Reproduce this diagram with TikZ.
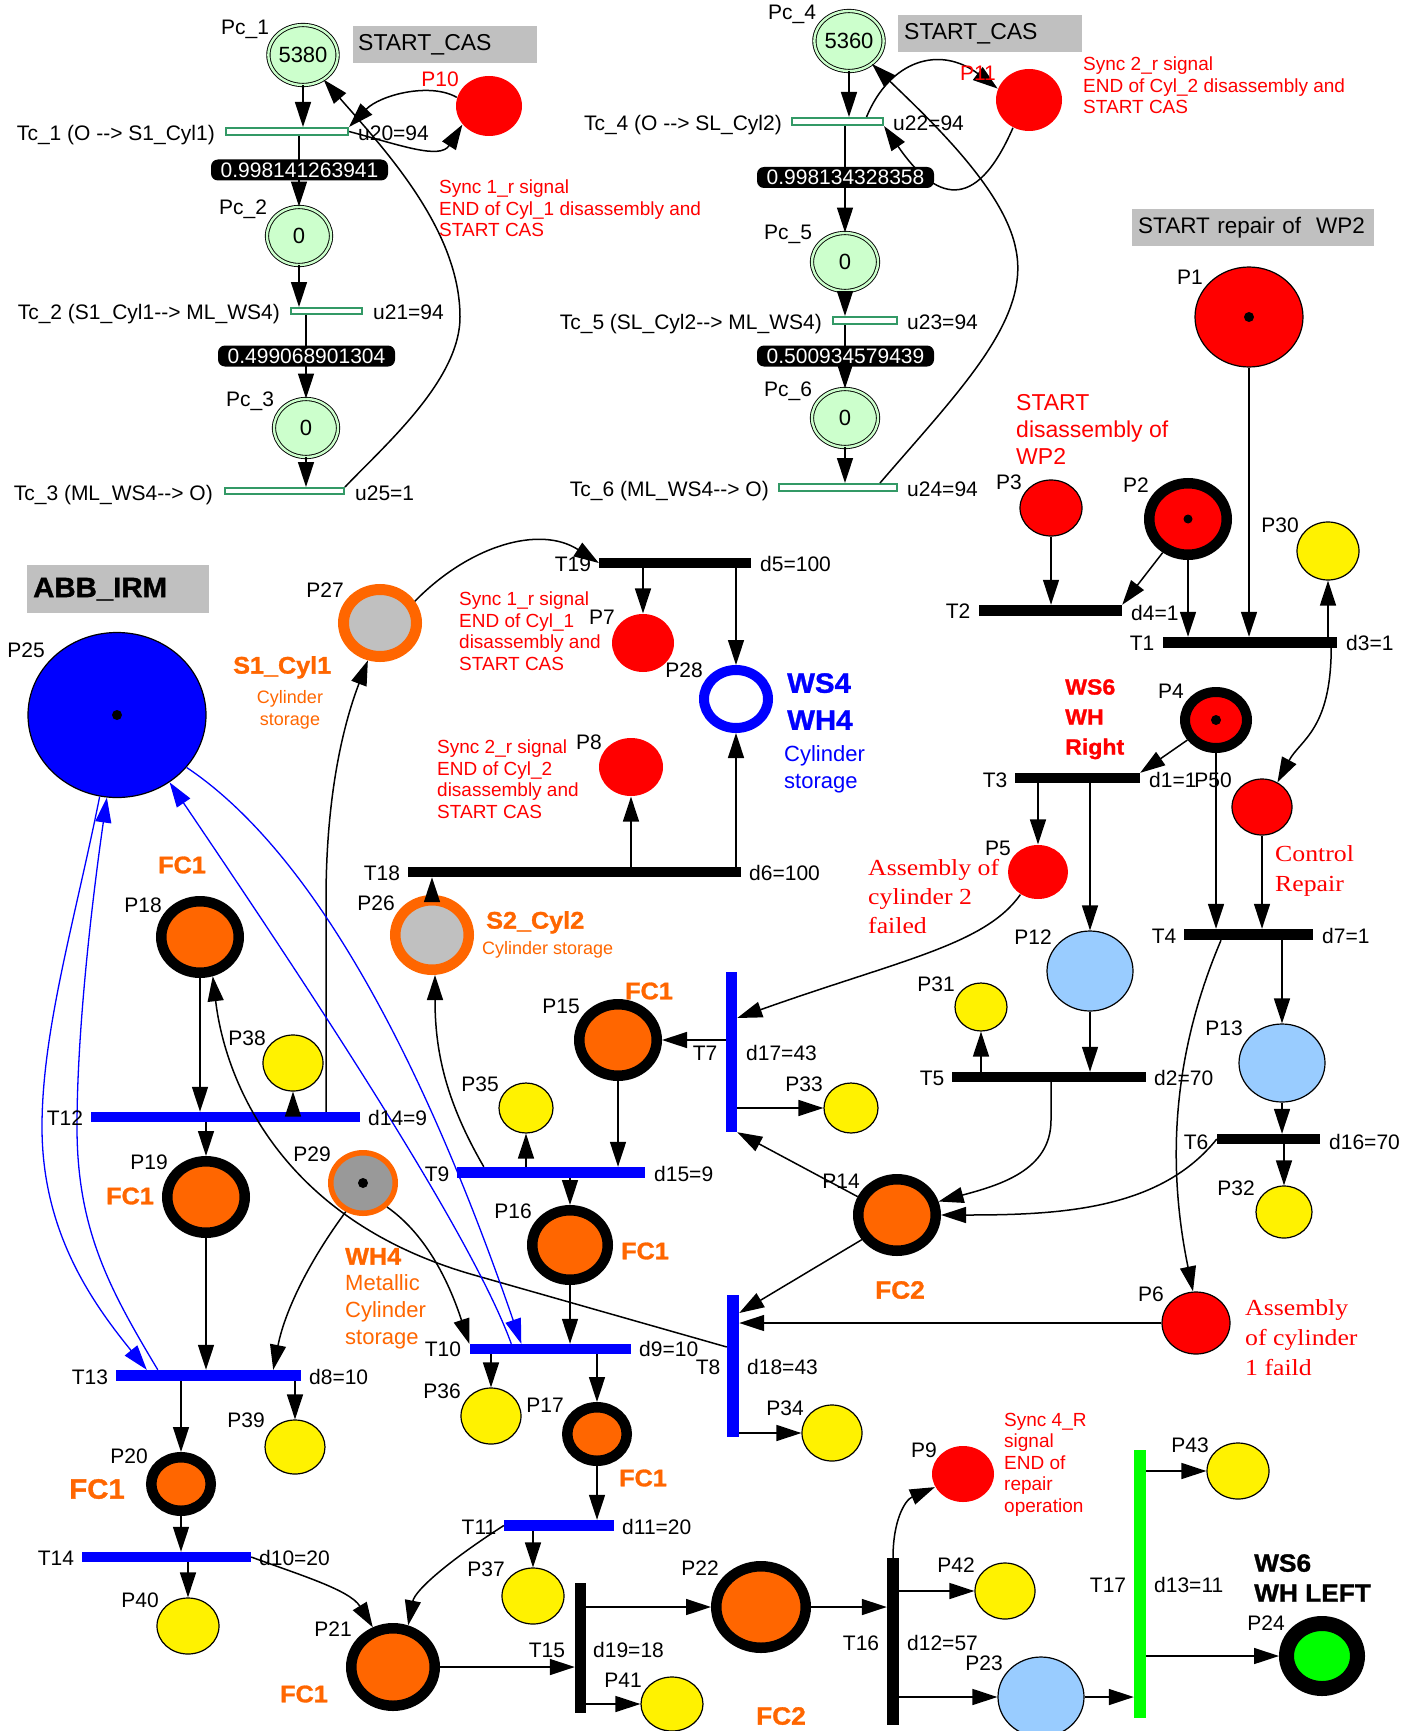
\documentclass[tikz,border=0pt]{standalone}
\usepackage{fontspec}
\setmainfont{Liberation Sans}
\newfontfamily\antiqua[FakeStretch=1.12]{Liberation Serif}
\newfontfamily\heavy[FakeBold=1.2,FakeStretch=1.05]{Liberation Sans}
\usetikzlibrary{shapes.geometric,arrows.meta}
\newcommand\setfs[2]{\fontsize{#1}{#2}\selectfont}
\definecolor{pcgreen}{HTML}{CCFFCC}
\definecolor{tcgreen}{HTML}{339966}
\definecolor{orng}{HTML}{FF6600}
\definecolor{ltblue}{HTML}{99CCFF}
\definecolor{gry}{HTML}{C0C0C0}
\definecolor{dgry}{HTML}{999999}
\definecolor{brightgreen}{HTML}{00FF00}
\tikzset{
  lbl/.style={inner sep=0pt, font=\setfs{21}{25}},
  place/.style={ellipse, draw=black, line width=1.2pt, inner sep=0pt},
  redp/.style={place, draw=none, fill=red},
  yel/.style={place, fill=yellow},
  ring/.style={ellipse, inner sep=0pt, line width=#1},
  fc/.style={ring=10.5pt, draw=black, fill=orng},
  pc/.style={ellipse, inner sep=0pt, draw=black, line width=0.9pt, double=pcgreen,
             double distance=2.4pt, fill=pcgreen, font=\setfs{22}{26}},
  tbar/.style={rectangle, inner sep=0pt, fill=#1},
  tc/.style={rectangle, inner sep=0pt, draw=tcgreen, line width=2pt, fill=white},
  arr/.style={line width=1.5pt, -{Triangle[length=25pt,width=16pt]}},
  barr/.style={arr, blue, line width=1.3pt},
  prob/.style={fill=black, text=white, rounded corners=7pt, inner sep=0pt,
               minimum width=177pt, minimum height=21pt, font=\setfs{21}{25}},
  ann/.style={text=red, align=left, inner sep=0pt, anchor=north west, font=\setfs{19}{21.5}},
  gbox/.style={fill=gry, inner ysep=0pt, anchor=north west, align=left},
  hv/.style={inner sep=0pt, font={\heavy\bfseries\setfs{#1}{#1}}},
}
\begin{document}
\begin{tikzpicture}[x=1pt,y=-1pt]
\useasboundingbox (0,0) rectangle (1421,1731);
\fill[white] (0,0) rectangle (1421,1731);

% ---------- CAS places (upper part)
\node[pc, minimum width=64pt, minimum height=60pt] (Pc1) at (303,55) {5380};
\node[pc, minimum width=64pt, minimum height=58pt] (Pc2) at (299,236) {0};
\node[pc, minimum width=64pt, minimum height=58pt] (Pc3) at (306,428) {0};
\node[pc, minimum width=66pt, minimum height=60pt] (Pc4) at (849,41) {5360};
\node[pc, minimum width=66pt, minimum height=58pt] (Pc5) at (845,262) {0};
\node[pc, minimum width=66pt, minimum height=58pt] (Pc6) at (845,418) {0};

% ---------- places
\node[redp, minimum width=66pt, minimum height=60pt] (P10) at (489,106) {};
\node[redp, minimum width=66pt, minimum height=62pt] (P11) at (1029,100) {};
\node[place, fill=red, minimum width=108pt, minimum height=100pt] (P1) at (1249,317) {};
\node[ring=10.5pt, draw=black, fill=red, minimum width=77.5pt, minimum height=71.5pt] (P2) at (1188,519) {};
\node[place, fill=red, minimum width=62pt, minimum height=56pt] (P3) at (1051,508) {};
\node[ring=10pt, draw=black, fill=red, minimum width=62pt, minimum height=56pt] (P4) at (1216,720) {};
\node[redp, minimum width=60pt, minimum height=54pt] (P5) at (1038,872) {};
\node[place, fill=red, minimum width=68pt, minimum height=62pt] (P6) at (1196,1323) {};
\node[redp, minimum width=62pt, minimum height=58pt] (P7) at (643,643) {};
\node[redp, minimum width=64pt, minimum height=58pt] (P8) at (631,767) {};
\node[redp, minimum width=62pt, minimum height=56pt] (P9) at (963,1474) {};
\node[place, fill=red, minimum width=60pt, minimum height=56pt] (P50) at (1262,807) {};
\node[place, fill=ltblue, minimum width=86pt, minimum height=80pt] (P12) at (1090,971) {};
\node[place, fill=ltblue, minimum width=86pt, minimum height=78pt] (P13) at (1282,1063) {};
\node[place, fill=ltblue, minimum width=86pt, minimum height=80pt] (P23) at (1041,1697) {};
\node[fc, minimum width=77.5pt, minimum height=71.5pt] (P14) at (897,1215) {};
\node[fc, minimum width=77.5pt, minimum height=71.5pt] (P15) at (618,1040) {};
\node[fc, minimum width=75.5pt, minimum height=69.5pt] (P16) at (570,1245) {};
\node[fc, minimum width=59.5pt, minimum height=53.5pt] (P17) at (597,1434) {};
\node[fc, minimum width=77.5pt, minimum height=71.5pt] (P18) at (200,937) {};
\node[fc, minimum width=77.5pt, minimum height=71.5pt] (P19) at (206,1197) {};
\node[fc, minimum width=59.5pt, minimum height=53.5pt] (P20) at (181,1484) {};
\node[fc, minimum width=83.5pt, minimum height=77.5pt] (P21) at (393,1667) {};
\node[fc, minimum width=89.5pt, minimum height=81.5pt] (P22) at (761,1607) {};
\node[ring=15pt, draw=black, fill=brightgreen, minimum width=71pt, minimum height=65pt] (P24) at (1322,1656) {};
\node[place, fill=blue, minimum width=178pt, minimum height=165pt] (P25) at (117,715) {};
\node[ring=10.5pt, draw=orng, fill=gry, minimum width=73.5pt, minimum height=69.5pt] (P26) at (432,935) {};
\node[ring=11pt, draw=orng, fill=gry, minimum width=73pt, minimum height=67pt] (P27) at (380,623) {};
\node[ring=10pt, draw=blue, fill=white, minimum width=64pt, minimum height=58pt] (P28) at (736,699) {};
\node[ring=5.5pt, draw=orng, fill=dgry, minimum width=64.5pt, minimum height=60.5pt] (P29) at (363,1183) {};
\node[yel, minimum width=62pt, minimum height=58pt] (P30) at (1328,551) {};
\node[yel, minimum width=52pt, minimum height=48pt] (P31) at (981,1007) {};
\node[yel, minimum width=56pt, minimum height=52pt] (P32) at (1284,1212) {};
\node[yel, minimum width=54pt, minimum height=50pt] (P33) at (851,1108) {};
\node[yel, minimum width=60pt, minimum height=56pt] (P34) at (832,1433) {};
\node[yel, minimum width=54pt, minimum height=50pt] (P35) at (526,1108) {};
\node[yel, minimum width=60pt, minimum height=56pt] (P36) at (491,1416) {};
\node[yel, minimum width=62pt, minimum height=56pt] (P37) at (533,1596) {};
\node[yel, minimum width=60pt, minimum height=56pt] (P38) at (293,1063) {};
\node[yel, minimum width=60pt, minimum height=54pt] (P39) at (295,1447) {};
\node[yel, minimum width=62pt, minimum height=56pt] (P40) at (188,1626) {};
\node[yel, minimum width=62pt, minimum height=54pt] (P41) at (672,1704) {};
\node[yel, minimum width=60pt, minimum height=56pt] (P42) at (1005,1591) {};
\node[yel, minimum width=62pt, minimum height=56pt] (P43) at (1238,1471) {};

% tokens
\fill (P1) circle[radius=5pt];
\fill (P2) circle[radius=4.5pt];
\fill (P4) circle[radius=5pt];
\fill (P25) circle[radius=5pt];
\fill (P29) circle[radius=5pt];

% ---------- transitions
\node[tc, minimum width=122pt, minimum height=7pt] (Tc1) at (287,131.5) {};
\node[tc, minimum width=71pt, minimum height=6pt] (Tc2) at (326.5,311) {};
\node[tc, minimum width=119pt, minimum height=6pt] (Tc3) at (284.5,491) {};
\node[tc, minimum width=91pt, minimum height=7pt] (Tc4) at (837.5,121.5) {};
\node[tc, minimum width=64pt, minimum height=7pt] (Tc5) at (865,320.5) {};
\node[tc, minimum width=118pt, minimum height=7pt] (Tc6) at (838,487.5) {};
\node[tbar=black, minimum width=174pt, minimum height=11pt] (T1) at (1250,642.5) {};
\node[tbar=black, minimum width=143pt, minimum height=11pt] (T2) at (1050.5,610.5) {};
\node[tbar=black, minimum width=125pt, minimum height=10pt] (T3) at (1077.5,778) {};
\node[tbar=black, minimum width=129pt, minimum height=11pt] (T4) at (1248.5,934.5) {};
\node[tbar=black, minimum width=194pt, minimum height=10pt] (T5) at (1049,1077) {};
\node[tbar=black, minimum width=103pt, minimum height=10pt] (T6) at (1268.5,1139) {};
\node[tbar=blue, minimum width=11pt, minimum height=160pt] (T7) at (731.5,1052) {};
\node[tbar=blue, minimum width=12pt, minimum height=142pt] (T8) at (733,1366) {};
\node[tbar=blue, minimum width=188pt, minimum height=11pt] (T9) at (551,1172.5) {};
\node[tbar=blue, minimum width=161pt, minimum height=10pt] (T10) at (550,1349) {};
\node[tbar=blue, minimum width=110pt, minimum height=11pt] (T11) at (559,1525.5) {};
\node[tbar=blue, minimum width=269pt, minimum height=10pt] (T12) at (225.5,1117) {};
\node[tbar=blue, minimum width=185pt, minimum height=11pt] (T13) at (208.5,1375.5) {};
\node[tbar=blue, minimum width=169pt, minimum height=10pt] (T14) at (166.5,1557) {};
\node[tbar=black, minimum width=11pt, minimum height=130pt] (T15) at (580.5,1648) {};
\node[tbar=black, minimum width=12pt, minimum height=167pt] (T16) at (893,1641.5) {};
\node[tbar=brightgreen, minimum width=12pt, minimum height=268pt] (T17) at (1140,1584) {};
\node[tbar=black, minimum width=333pt, minimum height=10pt] (T18) at (574.5,872) {};
\node[tbar=black, minimum width=152pt, minimum height=10pt] (T19) at (675,563) {};

% ---------- arcs: CAS chain 1
\draw[arr] (Pc1.south) -- (Pc1.south |- Tc1.north);
\draw[arr] (Tc1.south -| Pc2) -- (Pc2.north);
\draw[arr] (Pc2.south) -- (Pc2.south |- Tc2.north);
\draw[arr] (Tc2.south -| Pc3) -- (Pc3.north);
\draw[arr] (Pc3.south) -- (Pc3.south |- Tc3.north);
\draw[arr] (Tc3.north east) .. controls (385,445) and (460,380) .. (460,317)
           .. controls (460,230) and (385,150) .. (Pc1.-50);
\draw[arr] (P10.165) .. controls (430,82) and (380,95) .. (Tc1.north east);
\draw[arr] (Tc1.east) .. controls (400,145) and (440,160) .. (P10.-145);

% ---------- arcs: CAS chain 2
\draw[arr] (Pc4.south) -- (Pc4.south |- Tc4.north);
\draw[arr] (Tc4.south -| Pc5) -- (Pc5.north);
\draw[arr] (Pc5.south) -- (Pc5.south |- Tc5.north);
\draw[arr] (Tc5.south -| Pc6) -- (Pc6.north);
\draw[arr] (Pc6.south) -- (Pc6.south |- Tc6.north);
\draw[arr] ([xshift=42pt]Tc6.north) .. controls (960,390) and (1030,320) .. (1016,250)
           .. controls (1005,190) and (930,120) .. (Pc4.-45);
\draw[arr] ([xshift=29pt]Tc4.north) .. controls (890,60) and (940,45) .. (P11.160);
\draw[arr] (P11.-120) .. controls (975,215) and (935,200) .. (Tc4.south east);

% ---------- arcs: repair part
\draw[arr] (P1.south) -- (P1.south |- T1.north);
\draw[arr] (P3.south) -- (P3.south |- T2.north);
\draw[arr] (P2.-127) -- (T2.north east);
\draw[arr] (P2.south) -- (P2.south |- T1.north);
\draw[arr] (T1.north -| P30) -- (P30.south);
\draw[arr] ([xshift=-6pt]T1.south east) .. controls (1331,730) and (1300,740) .. (P50.58);
\draw[arr] (P4.-145) -- (T3.north east);
\draw[arr] (T3.south -| P5) -- (P5.north);
\draw[arr] (T3.south -| P12) -- (P12.north);
\draw[arr] (P4.south) -- (P4.south |- T4.north);
\draw[arr] (P50.south) -- (P50.south |- T4.north);
\draw[arr] (T4.south -| P13) -- (P13.north);
\draw[arr] ([xshift=-27.5pt]T4.south) .. controls (1170,1060) and (1168,1170) .. ([xshift=-3pt]P6.north);
\draw[arr] (P12.south) -- (P12.south |- T5.north);
\draw[arr] (T5.north -| P31) -- (P31.south);
\draw[arr] ([xshift=2pt]T5.south) -- ++(0,38) .. controls +(0,50) and (1000,1185) .. (P14.18);
\draw[arr] (T6.west) .. controls (1160,1210) and (1060,1215) .. (P14.east);
\draw[arr] (P13.south) -- (P13.south |- T6.north);
\draw[arr] (T6.south -| P32) -- (P32.north);
\draw[arr] (P5.-128) .. controls (985,945) and (900,960) .. ([yshift=34pt]T7.east);
\draw[arr] (T7.west |- P15.east) -- (P15.east);
\draw[arr] (T7.east |- P33.west) -- (P33.west);
\draw[arr] (P14.155) -- (T7.south east);
\draw[arr] (P14.-145) -- ([yshift=53pt]T8.east);
\draw[arr] (P6.west) -- (P6.west -| T8.east);
\draw[arr] (T8.east |- P34.west) -- (P34.west);
\draw[arr] ([yshift=19pt]T8.west) -- (474,1275) .. controls (280,1220) and (225,1080) .. (P18.-72);

% ---------- arcs: storage and disassembly
\draw[arr] (P15.south) -- (P15.south |- T9.north);
\draw[arr] (T9.north -| P35) -- (P35.south);
\draw[arr] (T9.south -| P16) -- (P16.north);
\draw[arr] ([xshift=27pt]T9.north west) .. controls (445,1100) and (435,1050) .. ([xshift=3pt]P26.south);
\draw[arr] (P26.north) -- (P26.north |- T18.south);
\draw[arr] (T18.north -| P8) -- (P8.south);
\draw[arr] (T18.north -| P28) -- (P28.south);
\draw[arr] (T19.south -| P7) -- (P7.north);
\draw[arr] (T19.south -| P28) -- (P28.north);
\draw[arr] (P27.32) .. controls (470,545) and (540,525) .. (T19.west);
\draw[arr] ([xshift=-34pt]T12.north east) -- (326,900) .. controls (326,790) and (345,720) .. (P27.-108);
\draw[arr] (P18.south) -- (P18.south |- T12.north);
\draw[arr] (T12.north -| P38) -- (P38.south);
\draw[arr] (T12.south -| P19) -- (P19.north);
\draw[arr] (P19.south) -- (P19.south |- T13.north);
\draw[arr] (T13.south -| P20) -- (P20.north);
\draw[arr] (T13.south -| P39) -- (P39.north);
\draw[arr] (P29.-121) .. controls (310,1260) and (285,1310) .. ([xshift=-28pt]T13.north east);
\draw[arr] (P29.-45) .. controls (420,1230) and (445,1270) .. (T10.north west);
\draw[arr] (P16.south) -- (P16.south |- T10.north);
\draw[arr] (T10.south -| P36) -- (P36.north);
\draw[arr] (T10.south -| P17) -- (P17.north);
\draw[arr] (P17.south) -- (P17.south |- T11.north);
\draw[arr] (T11.south -| P37) -- (P37.north);
\draw[arr] (T11.west) .. controls (450,1560) and (415,1590) .. (P21.70);
\draw[arr] (P20.south) -- (P20.south |- T14.north);
\draw[arr] (T14.south -| P40) -- (P40.north);
\draw[arr] (T14.east) .. controls (300,1575) and (350,1590) .. (P21.117);
\draw[arr] (P21.east) -- (P21.east -| T15.west);
\draw[arr] (T15.east |- P22.west) -- (P22.west);
\draw[arr] (T15.east |- P41.west) -- (P41.west);
\draw[arr] (P22.east) -- (P22.east -| T16.west);
\draw[arr] (T16.north) .. controls (893,1520) and (905,1500) .. (P9.-155);
\draw[arr] (T16.east |- P42.west) -- (P42.west);
\draw[arr] (T16.east |- P23.west) -- (P23.west);
\draw[arr] (P23.east) -- (P23.east -| T17.west);
\draw[arr] (T17.east |- P43.west) -- (P43.west);
\draw[arr] (T17.east |- P24.west) -- (P24.west);

% ---------- robot arcs
\draw[barr] (P25.-102) .. controls (75,920) and (42,1030) .. (42,1127)
            .. controls (42,1230) and (90,1300) .. ([xshift=31pt]T13.north west);
\draw[barr] ([xshift=42pt]T13.north west) .. controls (110,1290) and (77,1230) .. (77,1127)
            .. controls (77,1020) and (95,880) .. (P25.-97);
\draw[barr] ([xshift=42pt]T10.north west) .. controls (470,1230) and (300,975) .. (P25.-52);
\draw[barr] (P25.-37) .. controls (310,850) and (420,1050) .. ([xshift=52pt]T10.north west);

% ---------- probability tags
\node[prob] (pr1) at (299.5,170) {0.998141263941};
\node[prob] (pr2) at (306.5,356) {0.499068901304};
\node[prob] (pr3) at (845.5,177.5) {0.998134328358};
\node[prob] (pr4) at (845.5,356) {0.500934579439};

% ---------- grey title boxes
\node[gbox, inner xsep=5pt, text width=174pt, minimum height=37pt, font=\setfs{23}{27}] (cas1) at (353,26) {START\_CAS};
\node[gbox, inner xsep=6pt, text width=172pt, minimum height=37pt, font=\setfs{23}{27}] (cas2) at (898,15) {START\_CAS};
\node[gbox, inner xsep=6pt, text width=230pt, minimum height=37pt, font=\setfs{22.5}{27}] (rep) at (1132,209) {\mbox{START repair of~~WP2}};
\node[gbox, inner xsep=6pt, text width=170pt, minimum height=48pt, font={\heavy\bfseries\setfs{28}{30}}] (abb) at (27,565) {ABB\_IRM};

% ---------- place labels
\node[lbl, anchor=base] (lPc1) at (245,34.5) {Pc\_1};
\node[lbl, anchor=base] (lPc2) at (243,214.5) {Pc\_2};
\node[lbl, anchor=base] (lPc3) at (250,406.5) {Pc\_3};
\node[lbl, anchor=base] (lPc4) at (792,19.5) {Pc\_4};
\node[lbl, anchor=base] (lPc5) at (788,239.5) {Pc\_5};
\node[lbl, anchor=base] (lPc6) at (788,396.5) {Pc\_6};
\node[lbl, anchor=base, text=red] (lP10) at (440,86.5) {P10};
\node[lbl, anchor=base, text=red] (lP11) at (978,80.5) {P11};
\node[lbl, anchor=base] (lP1) at (1190,284.5) {P1};
\node[lbl, anchor=base] (lP3) at (1009,489.5) {P3};
\node[lbl, anchor=base] (lP2) at (1136,492.5) {P2};
\node[lbl, anchor=base] (lP30) at (1280,532.5) {P30};
\node[lbl, anchor=base] (lP4) at (1171,698.5) {P4};
\node[lbl, anchor=base] (lP5) at (998,855.5) {P5};
\node[lbl, anchor=base] (lP12) at (1033,944.5) {P12};
\node[lbl, anchor=base] (lP13) at (1224,1035.5) {P13};
\node[lbl, anchor=base] (lP31) at (936,991.5) {P31};
\node[lbl, anchor=base] (lP32) at (1236,1195.5) {P32};
\node[lbl, anchor=base] (lP6) at (1151,1301.5) {P6};
\node[lbl, anchor=base] (lP25) at (26,657.5) {P25};
\node[lbl, anchor=base] (lP27) at (325,597.5) {P27};
\node[lbl, anchor=base] (lP7) at (602,624.5) {P7};
\node[lbl, anchor=base] (lP28) at (684,677.5) {P28};
\node[lbl, anchor=base] (lP8) at (589,749.5) {P8};
\node[lbl, anchor=base] (lP18) at (143,912.5) {P18};
\node[lbl, anchor=base] (lP26) at (376,910.5) {P26};
\node[lbl, anchor=base] (lP15) at (561,1013.5) {P15};
\node[lbl, anchor=base] (lP38) at (247,1045.5) {P38};
\node[lbl, anchor=base] (lP35) at (480,1091.5) {P35};
\node[lbl, anchor=base] (lP33) at (804,1091.5) {P33};
\node[lbl, anchor=base] (lP19) at (149,1169.5) {P19};
\node[lbl, anchor=base] (lP29) at (312,1161.5) {P29};
\node[lbl, anchor=base] (lP14) at (841,1188.5) {P14};
\node[lbl, anchor=base] (lP16) at (513,1218.5) {P16};
\node[lbl, anchor=base] (lP36) at (442,1398.5) {P36};
\node[lbl, anchor=base] (lP17) at (545,1412.5) {P17};
\node[lbl, anchor=base] (lP39) at (246,1427.5) {P39};
\node[lbl, anchor=base] (lP34) at (785,1415.5) {P34};
\node[lbl, anchor=base] (lP20) at (129,1463.5) {P20};
\node[lbl, anchor=base] (lP9) at (924,1457.5) {P9};
\node[lbl, anchor=base] (lP43) at (1190,1452.5) {P43};
\node[lbl, anchor=base] (lP42) at (956,1572.5) {P42};
\node[lbl, anchor=base] (lP40) at (140,1607.5) {P40};
\node[lbl, anchor=base] (lP37) at (486,1576.5) {P37};
\node[lbl, anchor=base] (lP22) at (700,1575.5) {P22};
\node[lbl, anchor=base] (lP21) at (333,1636.5) {P21};
\node[lbl, anchor=base] (lP24) at (1266,1630.5) {P24};
\node[lbl, anchor=base] (lP23) at (984,1670.5) {P23};
\node[lbl, anchor=base] (lP41) at (623,1687.5) {P41};

% ---------- transition labels
\node[lbl, anchor=base east] (lTc1) at (215,140.5) {Tc\_1 (O -{}-> S1\_Cyl1)};
\node[lbl, anchor=base east] (lTc2) at (280,319.5) {Tc\_2 (S1\_Cyl1-{}-> ML\_WS4)};
\node[lbl, anchor=base east] (lTc3) at (213,500.5) {Tc\_3 (ML\_WS4-{}-> O)};
\node[lbl, anchor=base east] (lTc4) at (782,130.5) {Tc\_4 (O -{}-> SL\_Cyl2)};
\node[lbl, anchor=base east] (lTc5) at (822,329.5) {Tc\_5 (SL\_Cyl2-{}-> ML\_WS4)};
\node[lbl, anchor=base east] (lTc6) at (769,496.5) {Tc\_6 (ML\_WS4-{}-> O)};
\node[lbl, anchor=base west] (u20) at (358,140.5) {u20=94};
\node[lbl, anchor=base west] (u21) at (373,319.5) {u21=94};
\node[lbl, anchor=base west] (u25) at (355,500.5) {u25=1};
\node[lbl, anchor=base west] (u22) at (893,130.5) {u22=94};
\node[lbl, anchor=base west] (u23) at (907,329.5) {u23=94};
\node[lbl, anchor=base west] (u24) at (907,496.5) {u24=94};
\node[lbl, anchor=base] (lT1) at (1142,650.5) {T1};
\node[lbl, anchor=base] (lT2) at (958,618.5) {T2};
\node[lbl, anchor=base] (lT3) at (995,787.5) {T3};
\node[lbl, anchor=base] (lT4) at (1164,943.5) {T4};
\node[lbl, anchor=base] (lT5) at (932,1085.5) {T5};
\node[lbl, anchor=base] (lT6) at (1196,1149.5) {T6};
\node[lbl, anchor=base] (lT7) at (705,1060.5) {T7};
\node[lbl, anchor=base] (lT8) at (708,1374.5) {T8};
\node[lbl, anchor=base] (lT9) at (437,1181.5) {T9};
\node[lbl, anchor=base] (lT10) at (443,1356.5) {T10};
\node[lbl, anchor=base] (lT11) at (479,1534.5) {T11};
\node[lbl, anchor=base] (lT12) at (65,1125.5) {T12};
\node[lbl, anchor=base] (lT13) at (90,1384.5) {T13};
\node[lbl, anchor=base] (lT14) at (56,1565.5) {T14};
\node[lbl, anchor=base] (lT15) at (547,1657.5) {T15};
\node[lbl, anchor=base] (lT16) at (861,1650.5) {T16};
\node[lbl, anchor=base] (lT17) at (1108,1592.5) {T17};
\node[lbl, anchor=base] (lT18) at (382,880.5) {T18};
\node[lbl, anchor=base] (lT19) at (573,571.5) {T19};
\node[lbl, anchor=base west] (d5) at (760,571.5) {d5=100};
\node[lbl, anchor=base west] (d6) at (749,880.5) {d6=100};
\node[lbl, anchor=base west] (d4) at (1131,620.5) {d4=1};
\node[lbl, anchor=base west] (d3) at (1346,650.5) {d3=1};
\node[lbl, anchor=base west] (d1) at (1149,787.5) {d1=1};
\node[lbl, anchor=base] (lP50) at (1213,787.5) {P50};
\node[lbl, anchor=base west] (d7) at (1322,943.5) {d7=1};
\node[lbl, anchor=base west] (d2) at (1154,1085.5) {d2=70};
\node[lbl, anchor=base west] (d16) at (1329,1149.5) {d16=70};
\node[lbl, anchor=base west] (d17) at (746,1060.5) {d17=43};
\node[lbl, anchor=base west] (d14) at (368,1125.5) {d14=9};
\node[lbl, anchor=base west] (d15) at (654,1181.5) {d15=9};
\node[lbl, anchor=base west] (d9) at (639,1356.5) {d9=10};
\node[lbl, anchor=base west] (d8) at (309,1384.5) {d8=10};
\node[lbl, anchor=base west] (d18) at (747,1374.5) {d18=43};
\node[lbl, anchor=base west] (d10) at (259,1565.5) {d10=20};
\node[lbl, anchor=base west] (d11) at (622,1534.5) {d11=20};
\node[lbl, anchor=base west] (d19) at (593,1657.5) {d19=18};
\node[lbl, anchor=base west] (d12) at (907,1650.5) {d12=57};
\node[lbl, anchor=base west] (d13) at (1154,1592.5) {d13=11};

% ---------- annotations
\node[ann] (syn1a) at (439,180) {Sync 1\_r signal\\END of Cyl\_1 disassembly and\\START CAS};
\node[ann] (syn2a) at (1083,57) {Sync 2\_r signal\\END of Cyl\_2 disassembly and\\START CAS};
\node[ann, font=\setfs{23}{27}] (startdis) at (1016,394.5) {START\\disassembly of\\WP2};
\node[ann] (syn1b) at (459,592) {Sync 1\_r signal\\END of Cyl\_1\\disassembly and\\START CAS};
\node[ann] (syn2b) at (437,740) {Sync 2\_r signal\\END of Cyl\_2\\disassembly and\\START CAS};
\node[ann] (syn4) at (1004,1413) {Sync 4\_R\\signal\\END of\\repair\\operation};
\node[ann, font={\antiqua\setfs{23}{29}}] (fail2) at (868,859) {Assembly of\\cylinder 2\\failed};
\node[ann, font={\antiqua\setfs{23}{30}}] (ctrl) at (1275,845) {Control\\Repair};
\node[ann, font={\antiqua\setfs{23}{30}}] (fail1) at (1245,1299) {Assembly\\of cylinder\\1 faild};
\node[ann, font={\heavy\bfseries\setfs{22}{30}}] (ws6r) at (1065,679) {WS6\\WH\\Right};
\node[ann, text=blue, font={\heavy\bfseries\setfs{28}{37}}] (ws4) at (787,673) {WS4\\WH4};
\node[ann, text=blue, font=\setfs{22}{27}] (ws4c) at (784,745) {Cylinder\\storage};
\node[hv=24, text=orng, anchor=base west] (s1) at (233,673.6) {S1\_Cyl1};
\node[inner sep=0pt, text=orng, align=center, anchor=north, font=\setfs{18}{22}] (s1c) at (290,690) {Cylinder\\storage};
\node[hv=24, text=orng, anchor=base west] (s2) at (486,928.6) {S2\_Cyl2};
\node[inner sep=0pt, text=orng, anchor=base west, font=\setfs{18}{22}] (s2c) at (482,954.5) {Cylinder storage};
\node[hv=24, text=orng, anchor=base west] (wh4) at (345,1264.6) {WH4};
\node[ann, text=orng, font=\setfs{22}{27}] (wh4c) at (345,1274) {Metallic\\Cylinder\\storage};
\node[ann, text=black, font={\heavy\bfseries\setfs{25}{30}}] (ws6l) at (1254,1554) {WS6\\WH LEFT};
\node[hv=24, text=orng] (fcA) at (182,865) {FC1};
\node[hv=24, text=orng] (fcB) at (130,1196) {FC1};
\node[hv=24, text=orng] (fcC) at (649,991) {FC1};
\node[hv=24, text=orng] (fcD) at (645,1251) {FC1};
\node[hv=24, text=orng] (fcE) at (643,1478) {FC1};
\node[hv=24, text=orng] (fcF) at (304,1694) {FC1};
\node[hv=28, text=orng] (fcG) at (97,1489) {FC1};
\node[hv=25, text=orng] (fcH) at (900,1290) {FC2};
\node[hv=25, text=orng] (fcI) at (781,1716) {FC2};
\end{tikzpicture}
\end{document}
